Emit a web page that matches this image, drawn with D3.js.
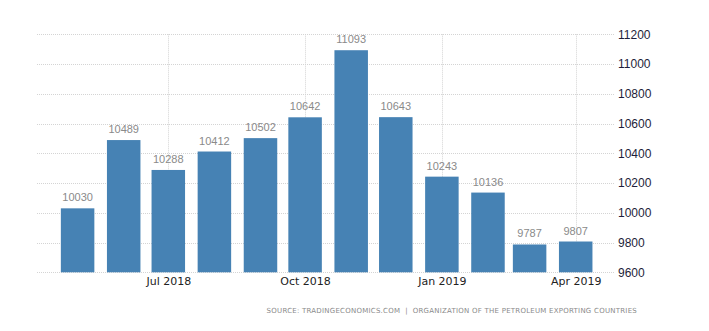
<!DOCTYPE html>
<html>
<head>
<meta charset="utf-8">
<script src="https://cdn.jsdelivr.net/npm/d3@7"></script>
<style>
  html, body { margin: 0; padding: 0; background: #fff; }
  svg { display: block; }
</style>
</head>
<body>
<svg id="chart" width="709" height="331"></svg>
<script>
// Monthly crude oil production, Saudi Arabia (thousand barrels per day)
const months = ["2018-05", "2018-06", "2018-07", "2018-08", "2018-09", "2018-10",
                "2018-11", "2018-12", "2019-01", "2019-02", "2019-03", "2019-04"];
const production = [10030, 10489, 10288, 10412, 10502, 10642,
                    11093, 10643, 10243, 10136, 9787, 9807];
const yTicks = [9600, 9800, 10000, 10200, 10400, 10600, 10800, 11000, 11200];
const xTickDates = ["2018-07", "2018-10", "2019-01", "2019-04"];
const sourceText = "SOURCE: TRADINGECONOMICS.COM  |  ORGANIZATION OF THE PETROLEUM EXPORTING COUNTRIES";

const parseMonth = d3.timeParse("%Y-%m");
const data = months.map((m, i) => ({ date: parseMonth(m), value: production[i] }));

const svg = d3.select("#chart");
const plot = { left: 37, right: 615, top: 34.3, bottom: 272.3 };

const x = d3.scaleTime()
  .domain([parseMonth("2018-07"), parseMonth("2019-04")])
  .range([168.3, 575.7]);

const y = d3.scaleLinear()
  .domain([9600, 11200])
  .range([plot.bottom, plot.top]);

const barWidth = 33.5;

// horizontal grid
svg.append("g")
  .selectAll("line")
  .data(yTicks)
  .join("line")
  .attr("x1", plot.left)
  .attr("x2", plot.right)
  .attr("y1", d => Math.round(y(d)) + 0.5)
  .attr("y2", d => Math.round(y(d)) + 0.5)
  .attr("stroke", "#d4d4d4")
  .attr("stroke-width", 1)
  .attr("stroke-dasharray", "1,1");

// vertical grid at quarter ticks
svg.append("g")
  .selectAll("line")
  .data(xTickDates.map(parseMonth))
  .join("line")
  .attr("x1", d => Math.round(x(d)) + 0.5)
  .attr("x2", d => Math.round(x(d)) + 0.5)
  .attr("y1", plot.top)
  .attr("y2", plot.bottom)
  .attr("stroke", "#d4d4d4")
  .attr("stroke-width", 1)
  .attr("stroke-dasharray", "1,1");

// bars
svg.append("g")
  .selectAll("rect")
  .data(data)
  .join("rect")
  .attr("x", d => x(d.date) - barWidth / 2)
  .attr("width", barWidth)
  .attr("y", d => y(d.value))
  .attr("height", d => y(9600) - y(d.value))
  .attr("fill", "#4682b4");

// value labels
svg.append("g")
  .selectAll("text")
  .data(data)
  .join("text")
  .attr("x", d => x(d.date))
  .attr("y", d => y(d.value) - 7)
  .attr("text-anchor", "middle")
  .attr("font-family", "Liberation Sans, Arial, sans-serif")
  .attr("font-size", "11px")
  .attr("fill", "#8a8a8a")
  .text(d => d.value);

// right value axis
const yAxis = d3.axisRight(y).tickValues(yTicks).tickFormat(d3.format("d")).tickSize(0).tickPadding(0);
const ya = svg.append("g")
  .attr("transform", `translate(618,0)`)
  .call(yAxis);
ya.select(".domain").remove();
ya.selectAll("text")
  .attr("font-family", "Liberation Sans, Arial, sans-serif")
  .attr("font-size", "12px")
  .attr("fill", "#1e1e3a");

// bottom time axis
const xAxis = d3.axisBottom(x)
  .tickValues(xTickDates.map(parseMonth))
  .tickFormat(d3.timeFormat("%b %Y"))
  .tickSize(0)
  .tickPadding(0);
const xa = svg.append("g")
  .attr("transform", `translate(0,${plot.bottom + 5})`)
  .call(xAxis);
xa.select(".domain").remove();
xa.selectAll("text")
  .attr("font-family", "DejaVu Sans, Verdana, sans-serif")
  .attr("font-size", "11px")
  .attr("fill", "#222");

// source line
svg.append("text")
  .attr("x", 637)
  .attr("y", 313)
  .attr("text-anchor", "end")
  .attr("font-family", "DejaVu Sans, Verdana, sans-serif")
  .attr("font-size", "7px")
  .attr("letter-spacing", "0.24px")
  .attr("fill", "#8a8a8a")
  .style("white-space", "pre")
  .text(sourceText);
</script>
</body>
</html>
